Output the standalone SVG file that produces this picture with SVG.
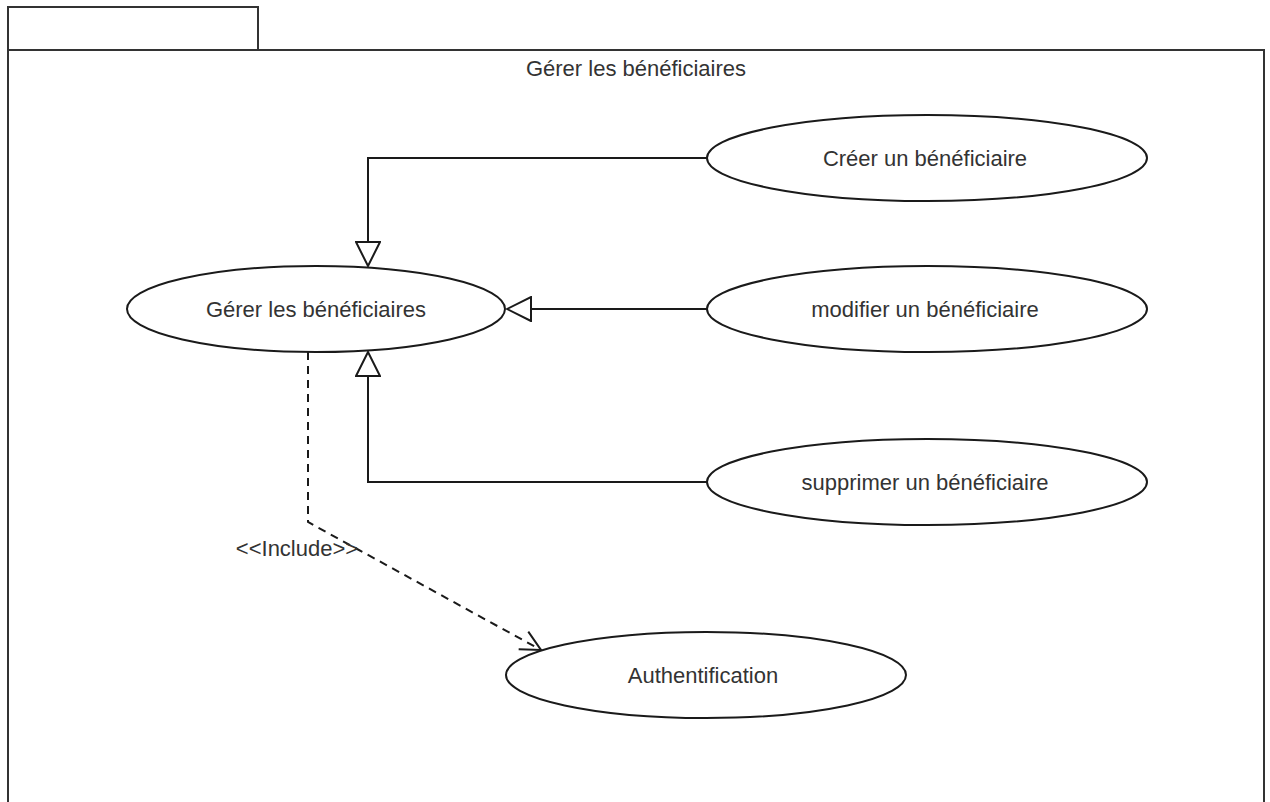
<svg xmlns="http://www.w3.org/2000/svg" width="1270" height="802" viewBox="0 0 1270 802">
  <style>
    .frame { fill: #ffffff; stroke: #333333; stroke-width: 2; }
    .uc { fill: #ffffff; stroke: #1a1a1a; stroke-width: 2; }
    .lbl { font-family: "Liberation Sans", Arial, sans-serif; font-size: 22px; fill: #333333; text-anchor: middle; dominant-baseline: central; }
    .gen { fill: none; stroke: #1a1a1a; stroke-width: 2; }
    .inc { fill: none; stroke: #1a1a1a; stroke-width: 2; stroke-dasharray: 8 6; }
  </style>
  <defs>
    <marker id="hollowTri" viewBox="0 0 26 26" refX="25" refY="13" markerWidth="26" markerHeight="26" markerUnits="userSpaceOnUse" orient="auto">
      <path d="M1,1 L25,13 L1,25 Z" fill="#ffffff" stroke="#1a1a1a" stroke-width="2"/>
    </marker>
    <marker id="openArrow" viewBox="0 0 24 24" refX="22" refY="12" markerWidth="24" markerHeight="24" markerUnits="userSpaceOnUse" orient="auto">
      <path d="M2,2 L22,12 L2,22" fill="none" stroke="#1a1a1a" stroke-width="2"/>
    </marker>
  </defs>

  <rect width="1270" height="802" fill="#ffffff"/>

  <!-- package frame -->
  <g id="package">
    <rect class="frame" x="8" y="7" width="250" height="43"/>
    <path class="frame" d="M8,50 L1264,50 L1264,802 M8,50 L8,802" fill="none"/>
    <text class="lbl" x="636" y="68">Gérer les bénéficiaires</text>
  </g>

  <!-- connectors -->
  <g id="connectors">
    <polyline class="gen" points="707,158 368,158 368,266" marker-end="url(#hollowTri)"/>
    <polyline class="gen" points="707,309 507,309" marker-end="url(#hollowTri)"/>
    <polyline class="gen" points="707,482 368,482 368,352" marker-end="url(#hollowTri)"/>
    <polyline class="inc" points="308,352 308,522 541,650" marker-end="url(#openArrow)"/>
    <text class="lbl" x="297" y="548">&lt;&lt;Include&gt;&gt;</text>
  </g>

  <g id="uc-gerer">
    <ellipse class="uc" cx="316" cy="309" rx="189" ry="43"/>
    <text class="lbl" x="316" y="309">Gérer les bénéficiaires</text>
  </g>
  <g id="uc-creer">
    <ellipse class="uc" cx="927" cy="158" rx="220" ry="43"/>
    <text class="lbl" x="925" y="158">Créer un bénéficiaire</text>
  </g>
  <g id="uc-modifier">
    <ellipse class="uc" cx="927" cy="309" rx="220" ry="43"/>
    <text class="lbl" x="925" y="309">modifier un bénéficiaire</text>
  </g>
  <g id="uc-supprimer">
    <ellipse class="uc" cx="927" cy="482" rx="220" ry="43"/>
    <text class="lbl" x="925" y="482">supprimer un bénéficiaire</text>
  </g>
  <g id="uc-auth">
    <ellipse class="uc" cx="706" cy="675" rx="200" ry="43"/>
    <text class="lbl" x="703" y="675">Authentification</text>
  </g>
</svg>
